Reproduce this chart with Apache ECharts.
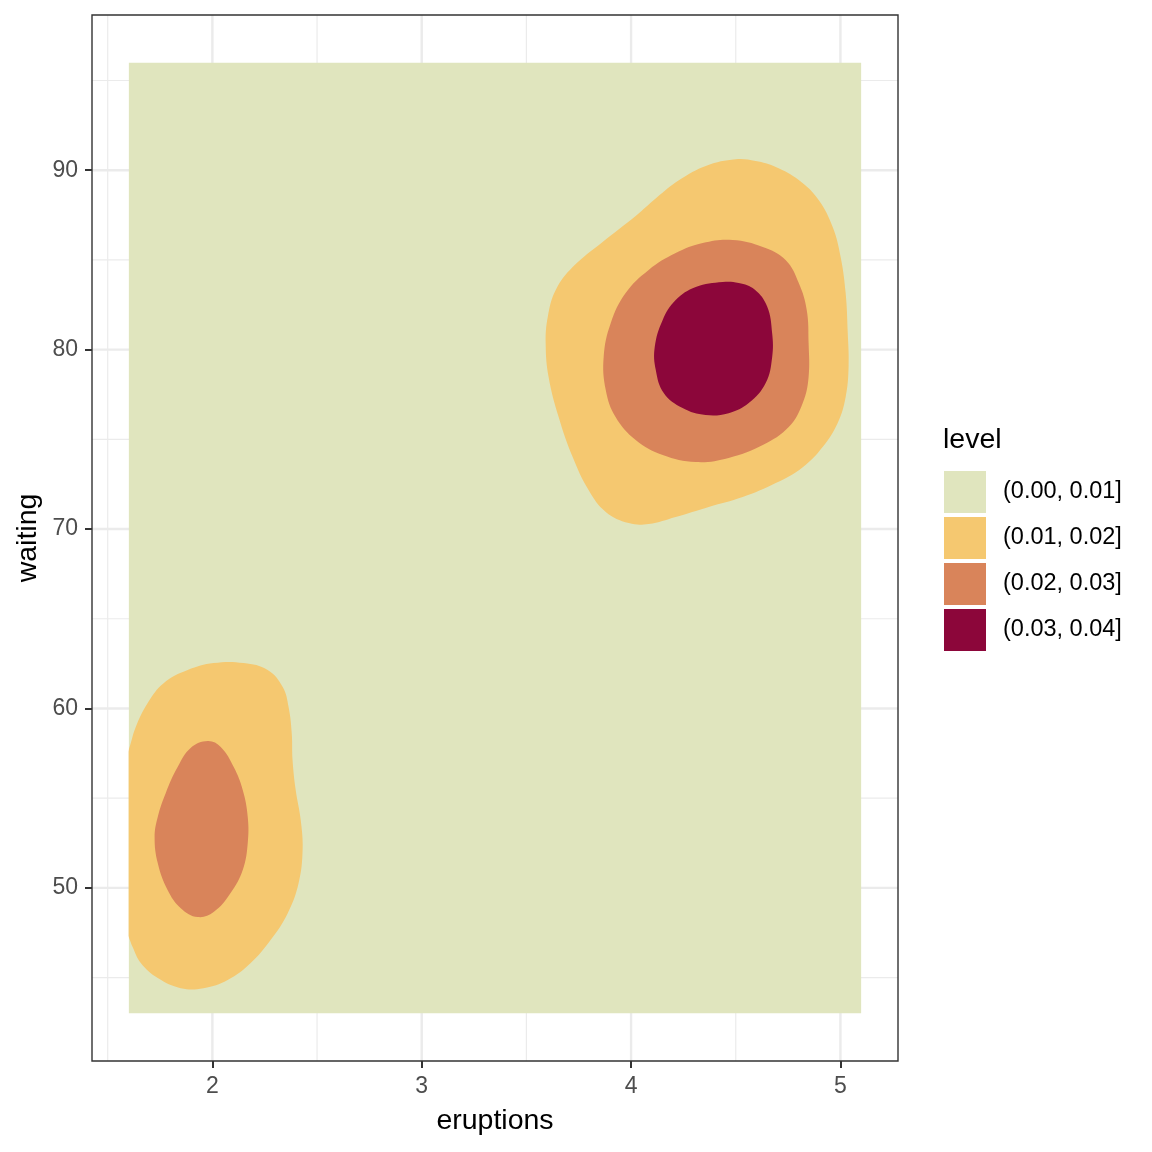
<!DOCTYPE html>
<html><head><meta charset="utf-8">
<script src="https://cdn.jsdelivr.net/npm/echarts@6/dist/echarts.min.js"></script>
<style>html,body{margin:0;padding:0;background:#fff}#chart{width:1152px;height:1152px}</style>
</head><body><div id="chart"></div>
<script>
// ---- data ----
const levelNames = ['(0.00, 0.01]', '(0.01, 0.02]', '(0.02, 0.03]', '(0.03, 0.04]'];
const levelColors = ['#E0E5BE', '#F5C870', '#D9845A', '#8C063A'];
const xTicks = [2, 3, 4, 5];
const yTicks = [50, 60, 70, 80, 90];
const xMinor = [1.5, 2.5, 3.5, 4.5];
const yMinor = [45, 55, 65, 75, 85, 95];
const xRange = [1.425, 5.275];
const yRange = [40.35, 98.65];

// level (0.00, 0.01]: whole estimation window
const level1Window = [[1.6, 43], [5.1, 43], [5.1, 96], [1.6, 96]];
// level (0.01, 0.02]
const level2UpperRight = [
  [4.500, 90.61], [4.360, 90.25], [4.230, 89.45], [4.120, 88.45], [4.022, 87.45], [3.864, 86.00], [3.721, 84.60],
  [3.640, 83.32], [3.602, 81.82], [3.592, 80.37], [3.606, 78.47], [3.654, 76.24], [3.721, 74.01],
  [3.797, 72.17], [3.879, 70.95], [3.989, 70.33], [4.084, 70.28], [4.213, 70.67], [4.371, 71.23],
  [4.533, 71.78], [4.691, 72.56], [4.820, 73.45], [4.915, 74.57], [4.987, 75.91], [5.025, 77.36],
  [5.039, 79.03], [5.035, 80.92], [5.025, 83.15], [5.001, 85.16], [4.963, 86.83], [4.896, 88.34],
  [4.801, 89.45], [4.691, 90.18], [4.595, 90.51]
];
const level2LowerLeft = [
  [1.560, 56.60], [1.600, 57.68], [1.634, 58.96], [1.691, 60.30], [1.767, 61.41], [1.882, 62.14], [2.006, 62.53],
  [2.150, 62.53], [2.264, 62.14], [2.336, 61.19], [2.364, 60.08], [2.379, 58.63], [2.383, 57.12],
  [2.398, 55.45], [2.422, 53.78], [2.431, 52.11], [2.412, 50.27], [2.360, 48.59], [2.278, 47.09],
  [2.183, 45.81], [2.073, 44.86], [1.958, 44.41], [1.849, 44.41], [1.739, 44.97], [1.658, 45.81],
  [1.619, 46.70], [1.600, 47.26], [1.560, 48.20]
];
// level (0.02, 0.03]
const level3UpperRight = [
  [4.485, 86.11], [4.342, 85.94], [4.213, 85.38], [4.084, 84.44], [3.974, 83.15], [3.903, 81.48],
  [3.869, 79.59], [3.879, 77.75], [3.926, 76.24], [4.022, 74.96], [4.151, 74.12], [4.309, 73.73],
  [4.466, 73.96], [4.629, 74.68], [4.753, 75.68], [4.820, 77.02], [4.848, 78.47], [4.848, 80.37],
  [4.839, 82.21], [4.801, 83.71], [4.738, 84.99], [4.629, 85.72]
];
const level3LowerLeft = [
  [1.978, 58.18], [2.040, 57.85], [2.102, 56.73], [2.145, 55.45], [2.169, 53.95], [2.169, 52.50],
  [2.145, 50.99], [2.087, 49.71], [2.006, 48.65], [1.930, 48.37], [1.849, 48.87], [1.786, 49.88],
  [1.739, 51.38], [1.724, 52.83], [1.739, 53.95], [1.777, 55.28], [1.834, 56.73], [1.896, 57.79]
];
// level (0.03, 0.04]
const level4UpperRight = [
  [4.438, 83.77], [4.309, 83.49], [4.213, 82.76], [4.151, 81.65], [4.113, 80.14], [4.118, 78.86],
  [4.156, 77.58], [4.246, 76.74], [4.356, 76.35], [4.466, 76.46], [4.562, 77.02], [4.643, 78.14],
  [4.674, 79.59], [4.674, 80.90], [4.650, 82.40], [4.590, 83.35], [4.514, 83.71]
];

// ---- chart ----
const FONT = '"Liberation Sans", Arial, Helvetica, sans-serif';
const levelPolygons = [
  [level1Window],
  [level2UpperRight, level2LowerLeft],
  [level3UpperRight, level3LowerLeft],
  [level4UpperRight]
];

const gridSpec = [];
xMinor.forEach(v => gridSpec.push({ dir: 'v', v: v, w: 1.2 }));
yMinor.forEach(v => gridSpec.push({ dir: 'h', v: v, w: 1.2 }));
xTicks.forEach(v => gridSpec.push({ dir: 'v', v: v, w: 2.4 }));
yTicks.forEach(v => gridSpec.push({ dir: 'h', v: v, w: 2.4 }));

const series = [{
  type: 'custom',
  name: 'gridlines',
  coordinateSystem: 'cartesian2d',
  silent: true,
  z: 1,
  data: gridSpec.map(g => g.dir === 'v' ? [g.v, yRange[0]] : [xRange[0], g.v]),
  renderItem: function (params, api) {
    const g = gridSpec[params.dataIndex];
    let p1, p2;
    if (g.dir === 'v') { p1 = api.coord([g.v, yRange[0]]); p2 = api.coord([g.v, yRange[1]]); }
    else { p1 = api.coord([xRange[0], g.v]); p2 = api.coord([xRange[1], g.v]); }
    return { type: 'line', shape: { x1: p1[0], y1: p1[1], x2: p2[0], y2: p2[1] },
      style: { stroke: '#EBEBEB', lineWidth: g.w } };
  }
}];

levelPolygons.forEach((polys, i) => {
  series.push({
    type: 'custom',
    name: levelNames[i],
    coordinateSystem: 'cartesian2d',
    silent: true,
    z: 2 + i,
    itemStyle: { color: levelColors[i] },
    data: polys.map(p => [p[0][0], p[0][1]]),
    renderItem: function (params, api) {
      const poly = polys[params.dataIndex];
      const pts = poly.map(pt => api.coord(pt));
      const shape = { points: pts };
      if (i > 0) { shape.smooth = 0.4; }
      // clip to the estimation window
      const a = api.coord([level1Window[0][0], level1Window[2][1]]);
      const b = api.coord([level1Window[2][0], level1Window[0][1]]);
      return { type: 'polygon', shape: shape, style: { fill: levelColors[i] },
        clipPath: { type: 'rect', shape: { x: a[0], y: a[1], width: b[0] - a[0], height: b[1] - a[1] } } };
    }
  });
});

// panel border
series.push({
  type: 'custom',
  name: 'panelBorder',
  coordinateSystem: 'cartesian2d',
  silent: true,
  z: 20,
  data: [[xRange[0], yRange[0]]],
  renderItem: function (params, api) {
    const a = api.coord([xRange[0], yRange[1]]);
    const b = api.coord([xRange[1], yRange[0]]);
    return { type: 'rect', shape: { x: a[0], y: a[1], width: b[0] - a[0], height: b[1] - a[1] },
      style: { fill: null, stroke: '#333333', lineWidth: 1.4 } };
  }
});

const chart = echarts.init(document.getElementById('chart'), null, { renderer: 'canvas' });
chart.setOption({
  animation: false,
  backgroundColor: '#ffffff',
  textStyle: { fontFamily: FONT },
  grid: { left: 92, right: 254, top: 15, bottom: 91, show: false },
  xAxis: {
    type: 'value', min: xRange[0], max: xRange[1],
    axisLine: { show: false },
    splitLine: { show: false },
    axisTick: { show: true, length: 7, lineStyle: { color: '#333333', width: 2 }, customValues: xTicks },
    axisLabel: { customValues: xTicks, color: '#4D4D4D', fontSize: 23, margin: 14, fontFamily: FONT }
  },
  yAxis: {
    type: 'value', min: yRange[0], max: yRange[1],
    axisLine: { show: false },
    splitLine: { show: false },
    axisTick: { show: true, length: 7, lineStyle: { color: '#333333', width: 2 }, customValues: yTicks },
    axisLabel: { customValues: yTicks, color: '#4D4D4D', fontSize: 23, margin: 14, fontFamily: FONT }
  },
  legend: {
    orient: 'vertical', left: 939, top: 466,
    itemWidth: 42, itemHeight: 42, itemGap: 4,
    icon: 'rect', selectedMode: false,
    data: levelNames,
    textStyle: { fontSize: 23.5, color: '#000000', fontFamily: FONT, padding: [5, 0, 0, 12] }
  },
  graphic: [
    { type: 'text', x: 495, y: 1121, style: { text: 'eruptions', fontSize: 28.5, fontFamily: FONT, fill: '#000', align: 'center', verticalAlign: 'middle' } },
    { type: 'text', x: 28, y: 538, rotation: Math.PI / 2, style: { text: 'waiting', fontSize: 28.5, fontFamily: FONT, fill: '#000', align: 'center', verticalAlign: 'middle' } },
    { type: 'text', x: 943, y: 440, style: { text: 'level', fontSize: 28.5, fontFamily: FONT, fill: '#000', align: 'left', verticalAlign: 'middle' } }
  ],
  series: series
});
</script></body></html>
